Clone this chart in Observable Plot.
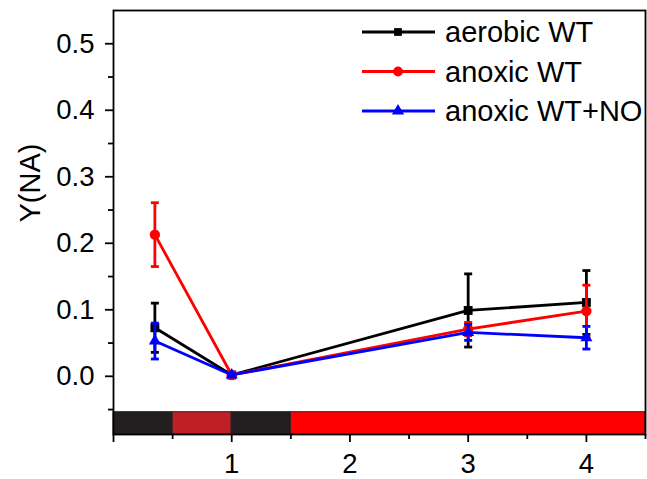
<!DOCTYPE html>
<html><head><meta charset="utf-8">
<script src="https://cdn.jsdelivr.net/npm/d3@7"></script>
<script src="https://cdn.jsdelivr.net/npm/@observablehq/plot@0.6"></script>
<style>
body{margin:0;background:#fff;font-family:"Liberation Sans",Arial,sans-serif;}
#wrap{position:relative;width:647px;height:479px;}
#legend{position:absolute;left:0;top:0;pointer-events:none;}
</style></head><body><div id="wrap"></div>
<script>
// Data
const xValues = [0.35, 1, 3, 4];
const seriesNames = ["aerobic WT", "anoxic WT", "anoxic WT+NO"];
const seriesColors = ["#000000", "#ff0000", "#0000ff"];
const seriesSymbols = ["square", "circle", "triangle"];
const aerobicWT = [0.073, 0.002, 0.099, 0.111];
const aerobicWTErr = [0.037, 0.002, 0.055, 0.048];
const anoxicWT = [0.213, 0.002, 0.071, 0.098];
const anoxicWTErr = [0.048, 0.002, 0.010, 0.039];
const anoxicWTNO = [0.053, 0.002, 0.066, 0.058];
const anoxicWTNOErr = [0.027, 0.002, 0.012, 0.017];
const yTickValues = [0, 0.1, 0.2, 0.3, 0.4, 0.5];
const yMinorTicks = [-0.05, 0.05, 0.15, 0.25, 0.35, 0.45];
const xTickValues = [0, 1, 2, 3, 4];
const xTickLabels = ["", "1", "2", "3", "4"];
const xMinorTicks = [0.5, 1.5, 2.5, 3.5, 4.5];
const conditionStart = [0, 0.5, 1, 1.5];
const conditionEnd = [0.5, 1, 1.5, 4.5];
const conditionColor = ["#231f20", "#be2026", "#231f20", "#ff0000"];
const yDomain = [-0.0875, 0.55];
const barTop = -0.054;

const allValues = [aerobicWT, anoxicWT, anoxicWTNO];
const allErr = [aerobicWTErr, anoxicWTErr, anoxicWTNOErr];
const series = seriesNames.map((name, s) => ({
  name, color: seriesColors[s], symbol: seriesSymbols[s],
  rows: xValues.map((x, i) => ({x, y: allValues[s][i], lo: allValues[s][i] - allErr[s][i], hi: allValues[s][i] + allErr[s][i]}))
}));
const bands = conditionStart.map((s, i) => ({start: s, end: conditionEnd[i], color: conditionColor[i]}));

const capSymbol = {draw(ctx, size) { const w = Math.sqrt(size / Math.PI); ctx.moveTo(-w, 0); ctx.lineTo(w, 0); }};

const marks = [
  Plot.rect(bands, {x1: "start", x2: "end", y1: yDomain[0], y2: barTop, fill: d => d.color, stroke: "#231f20", strokeWidth: 1}),
  Plot.axisY(yTickValues, {tickSize: 8, tickPadding: 11, strokeWidth: 1.8, tickFormat: d3.format(".1f"), label: null, fontSize: 27.5}),
  Plot.axisY(yMinorTicks, {tickSize: 5, strokeWidth: 1.8, tickFormat: () => "", label: null}),
  Plot.axisX(xTickValues, {tickSize: 8, tickPadding: 11, strokeWidth: 1.8, tickFormat: (d, i) => xTickLabels[xTickValues.indexOf(d)], label: null, fontSize: 27.5}),
  Plot.axisX(xMinorTicks, {tickSize: 5, strokeWidth: 1.8, tickFormat: () => "", label: null}),
  Plot.text(["Y(NA)"], {frameAnchor: "left", rotate: -90, dx: -83, fontSize: 29, fill: "#000"}),
];
for (const s of series) {
  marks.push(Plot.line(s.rows, {x: "x", y: "y", stroke: s.color, strokeWidth: 2.8}));
  marks.push(Plot.ruleX(s.rows, {x: "x", y1: "lo", y2: "hi", stroke: s.color, strokeWidth: 2.8}));
  marks.push(Plot.dot(s.rows, {x: "x", y: "hi", symbol: capSymbol, r: 4, stroke: s.color, strokeWidth: 2.8}));
  marks.push(Plot.dot(s.rows, {x: "x", y: "lo", symbol: capSymbol, r: 4, stroke: s.color, strokeWidth: 2.8}));
  marks.push(Plot.dot(s.rows, {x: "x", y: "y", symbol: s.symbol, r: s.symbol === "triangle" ? 4.5 : (s.symbol === "square" ? 5 : 5.2), fill: s.color, stroke: "none"}));
}
marks.push(Plot.frame({stroke: "#000", strokeWidth: 1.8}));

const chart = Plot.plot({
  width: 647, height: 479,
  marginLeft: 113, marginRight: 2, marginTop: 10, marginBottom: 45,
  x: {domain: [0, 4.5]},
  y: {domain: yDomain},
  style: {fontFamily: '"Liberation Sans", Arial, sans-serif', fontSize: "27.5px", color: "#000", background: "#fff"},
  marks
});
const wrap = document.getElementById("wrap");
wrap.appendChild(chart);

// Legend overlay
const leg = d3.select(wrap).append("svg").attr("id", "legend").attr("width", 647).attr("height", 479);
const symMap = {square: d3.symbolSquare, circle: d3.symbolCircle, triangle: d3.symbolTriangle};
const symSize = {square: 60, circle: 75, triangle: 65};
series.forEach((s, i) => {
  const g = leg.append("g").attr("transform", `translate(0,${32 + i * 39.5})`);
  g.append("line").attr("x1", 362).attr("x2", 435).attr("stroke", s.color).attr("stroke-width", 2.8);
  g.append("path").attr("d", d3.symbol(symMap[s.symbol], symSize[s.symbol])()).attr("transform", "translate(398,0)").attr("fill", s.color);
  g.append("text").attr("x", 445).attr("dy", "0.36em").attr("font-size", 29).attr("font-family", '"Liberation Sans", Arial, sans-serif').attr("fill", "#000").text(s.name);
});
</script></body></html>
